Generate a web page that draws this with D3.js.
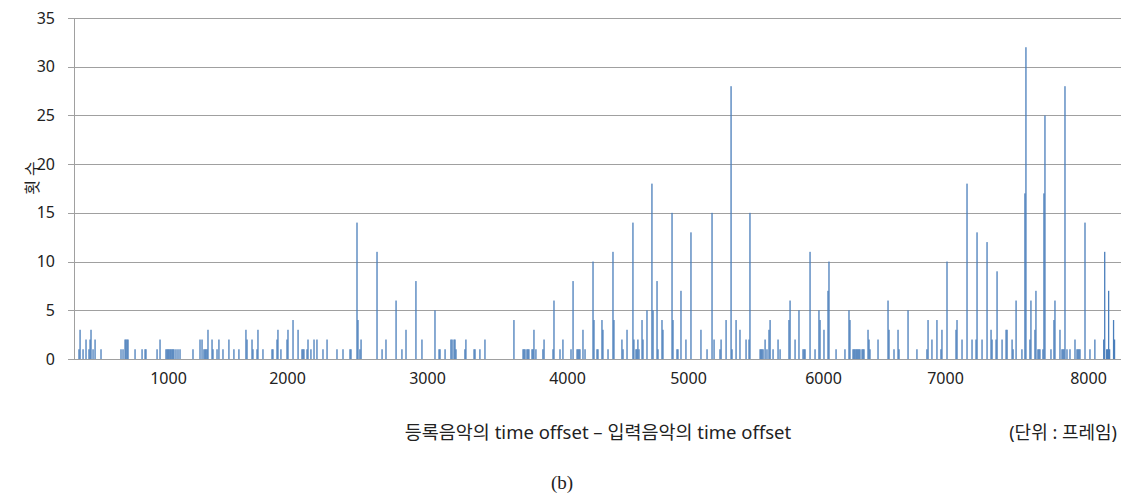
<!doctype html>
<html>
<head>
	<meta charset="utf-8">
	<title>time offset histogram</title>
	<script src="https://d3js.org/d3.v7.min.js"></script>
	<style>
	body { margin: 0; background: #fff; }
	svg text { font-family: "Noto Sans", "Noto Sans CJK KR", sans-serif; fill: #222; }
	svg .caption { font-family: "Liberation Serif", "Times New Roman", serif; }
	</style>
</head>
<body>
<script>

// time offset differences (frames) and how many times each one occurred
var offsets = [252, 261, 286, 311, 336, 345, 353, 370, 387, 437,
	605, 622, 639, 647, 656, 664, 723, 782, 807, 815,
	908, 933, 983, 992, 1000, 1008, 1017, 1025, 1034, 1042, 1050, 1067, 1084, 1101,
	1210, 1269, 1286, 1302, 1311, 1319, 1328, 1336, 1370, 1378, 1412, 1428, 1462, 1512, 1554, 1596,
	1655, 1664, 1706, 1714, 1748, 1756, 1798, 1874, 1882, 1916, 1924, 1949,
	2000, 2007, 2043, 2079, 2107, 2114, 2121, 2143, 2150, 2171, 2193, 2214, 2257, 2286, 2357, 2400, 2450, 2457,
	2500, 2507, 2521, 2529, 2643, 2679, 2707, 2779, 2821, 2850, 2921, 2964,
	3057, 3086, 3093, 3129, 3171, 3179, 3193, 3200, 3207, 3271, 3278, 3336, 3343, 3378, 3414,
	3621, 3686, 3693, 3700, 3714, 3721, 3728, 3750, 3757, 3764, 3778, 3828, 3836, 3900, 3907, 3950, 3971,
	4033, 4050, 4083, 4091, 4099, 4107, 4132, 4149, 4215, 4223, 4248, 4256, 4289, 4297, 4339, 4380, 4388,
	4454, 4463, 4496, 4545, 4553, 4570, 4578, 4586, 4595, 4620, 4628, 4661, 4702, 4711, 4744, 4752, 4785, 4793,
	4868, 4876, 4909, 4917, 4942, 4983, 5022, 5096,
	5141, 5178, 5193, 5237, 5245, 5282, 5319, 5326, 5356, 5385, 5430, 5452, 5459,
	5534, 5541, 5548, 5556, 5571, 5585, 5600, 5608, 5630, 5667, 5682, 5748, 5756, 5793, 5822, 5852, 5860, 5867, 5904, 5941, 5970, 5978,
	6008, 6041, 6049, 6107, 6180, 6213, 6221, 6246, 6254, 6262, 6271, 6279, 6287, 6295, 6303, 6320, 6328, 6336, 6369, 6377, 6385, 6451, 6533, 6541, 6582, 6615, 6623, 6697,
	6770, 6852, 6861, 6893, 6934, 6967, 6975, 7014, 7077, 7084, 7119, 7154, 7189, 7217, 7224, 7259, 7294, 7322, 7329, 7357, 7364, 7399, 7427, 7434, 7469, 7476, 7497,
	7538, 7559, 7566, 7594, 7601, 7629, 7636, 7650, 7657, 7664, 7685, 7692, 7699, 7741, 7762, 7769, 7804, 7818, 7825, 7832, 7839, 7853, 7874,
	7909, 7923, 7930, 7937, 7944, 7979, 8014, 8049, 8112, 8119, 8133, 8140, 8147, 8154, 8182, 8189];

var counts = [1, 3, 1, 2, 1, 2, 3, 1, 2, 1,
	1, 1, 2, 2, 2, 2, 1, 1, 1, 1,
	1, 2, 1, 1, 1, 1, 1, 1, 1, 1, 1, 1, 1, 1,
	1, 2, 2, 1, 1, 1, 1, 3, 2, 1, 1, 2, 1, 2, 1, 1,
	3, 2, 2, 1, 1, 3, 1, 1, 1, 2, 3, 1,
	2, 3, 4, 3, 1, 1, 1, 1, 2, 1, 2, 2, 1, 2, 1, 1, 1, 1,
	14, 4, 1, 2, 11, 1, 2, 6, 1, 3, 8, 2,
	5, 1, 1, 1, 2, 2, 2, 2, 1, 1, 2, 1, 1, 1, 2,
	4, 1, 1, 1, 1, 1, 1, 1, 1, 3, 1, 1, 2, 1, 6, 1, 2,
	1, 8, 1, 1, 1, 1, 3, 1, 10, 4, 1, 1, 4, 3, 1, 11, 4,
	2, 1, 3, 14, 2, 1, 1, 2, 1, 4, 2, 5, 18, 5, 8, 1, 4, 3,
	15, 4, 1, 1, 7, 2, 13, 3,
	1, 15, 2, 1, 2, 4, 28, 1, 4, 3, 2, 2, 15,
	1, 1, 1, 1, 2, 1, 3, 4, 1, 2, 1, 4, 6, 2, 5, 1, 1, 1, 11, 1, 5, 4,
	3, 7, 10, 1, 1, 5, 4, 1, 1, 1, 1, 1, 1, 1, 1, 1, 1, 1, 3, 2, 1, 2, 6, 3, 1, 3, 1, 5,
	1, 1, 4, 2, 4, 1, 3, 10, 3, 4, 2, 18, 2, 2, 13, 2, 12, 3, 2, 2, 9, 2, 3, 3, 2, 1, 6,
	1, 17, 32, 2, 6, 3, 7, 1, 1, 1, 1, 17, 25, 1, 4, 6, 3, 1, 1, 1, 28, 1, 1,
	2, 1, 1, 1, 1, 14, 1, 2, 2, 11, 1, 1, 7, 1, 4, 2];

var xTickValues = [1000, 2000, 3000, 4000, 5000, 6000, 7000, 8000];
var yTickValues = [0, 5, 10, 15, 20, 25, 30, 35];

var xTitle = "등록음악의 time offset – 입력음악의 time offset";
var yTitle = "횟 수";
var unitText = "(단위 : 프레임)";
var captionText = "(b)";

var data = offsets.map(function(o, i) { return { offset: o, count: counts[i] }; });

var width = 1123, height = 495;
var plot = { left: 74, right: 1121, top: 18, bottom: 359 };

var svg = d3.select("body").append("svg")
	.attr("width", width)
	.attr("height", height);

// the category axis in the original is not evenly spaced, so the scale is piecewise
var xScale = d3.scaleLinear()
	.domain([210, 1000, 2000, 3000, 4000, 5000, 6000, 7000, 8000, 8235])
	.range([plot.left, 168, 287, 427, 567, 688, 823, 945, 1088, plot.right]);

var yScale = d3.scaleLinear()
	.domain([0, 35])
	.range([plot.bottom, plot.top]);

// gridlines + y labels
var yAxis = d3.axisLeft(yScale)
	.tickValues(yTickValues)
	.tickSize(-(plot.right - plot.left + 6))
	.tickPadding(13)
	.tickFormat(d3.format("d"));

var gy = svg.append("g")
	.attr("transform", "translate(" + (plot.left - 6) + ",0)")
	.call(yAxis);
gy.select(".domain").remove();
gy.selectAll(".tick line").attr("stroke", "#a0a0a0").attr("shape-rendering", "crispEdges");
gy.selectAll(".tick text").attr("font-size", 16).attr("font-family", null);

// y axis line
svg.append("line")
	.attr("x1", plot.left).attr("x2", plot.left)
	.attr("y1", plot.top).attr("y2", plot.bottom)
	.attr("stroke", "#a0a0a0")
	.attr("shape-rendering", "crispEdges");

// bars
svg.append("g").selectAll("rect")
	.data(data)
	.enter().append("rect")
	.attr("x", function(d) { return xScale(d.offset) - 0.65; })
	.attr("width", 1.3)
	.attr("y", function(d) { return yScale(d.count); })
	.attr("height", function(d) { return yScale(0) - yScale(d.count); })
	.attr("fill", "#4a7ebb");

// x axis
var xAxis = d3.axisBottom(xScale)
	.tickValues(xTickValues)
	.tickSize(0)
	.tickPadding(14)
	.tickFormat(d3.format("d"));

var gx = svg.append("g")
	.attr("transform", "translate(0," + plot.bottom + ")")
	.call(xAxis);
gx.select(".domain").remove();
gx.selectAll(".tick text").attr("font-size", 16).attr("font-family", null);

svg.append("line")
	.attr("x1", plot.left - 6).attr("x2", plot.right)
	.attr("y1", plot.bottom).attr("y2", plot.bottom)
	.attr("stroke", "#a0a0a0")
	.attr("shape-rendering", "crispEdges");

// titles
svg.append("text")
	.attr("transform", "translate(38,178) rotate(-90)")
	.attr("text-anchor", "middle")
	.attr("font-size", 16)
	.text(yTitle);

svg.append("text")
	.attr("x", 598).attr("y", 439)
	.attr("text-anchor", "middle")
	.attr("font-size", 18.5)
	.text(xTitle);

svg.append("text")
	.attr("x", 1117).attr("y", 439)
	.attr("text-anchor", "end")
	.attr("font-size", 18)
	.text(unitText);

svg.append("text")
	.attr("class", "caption")
	.attr("x", 562).attr("y", 489)
	.attr("text-anchor", "middle")
	.attr("font-size", 19)
	.text(captionText);

</script>
</body>
</html>
